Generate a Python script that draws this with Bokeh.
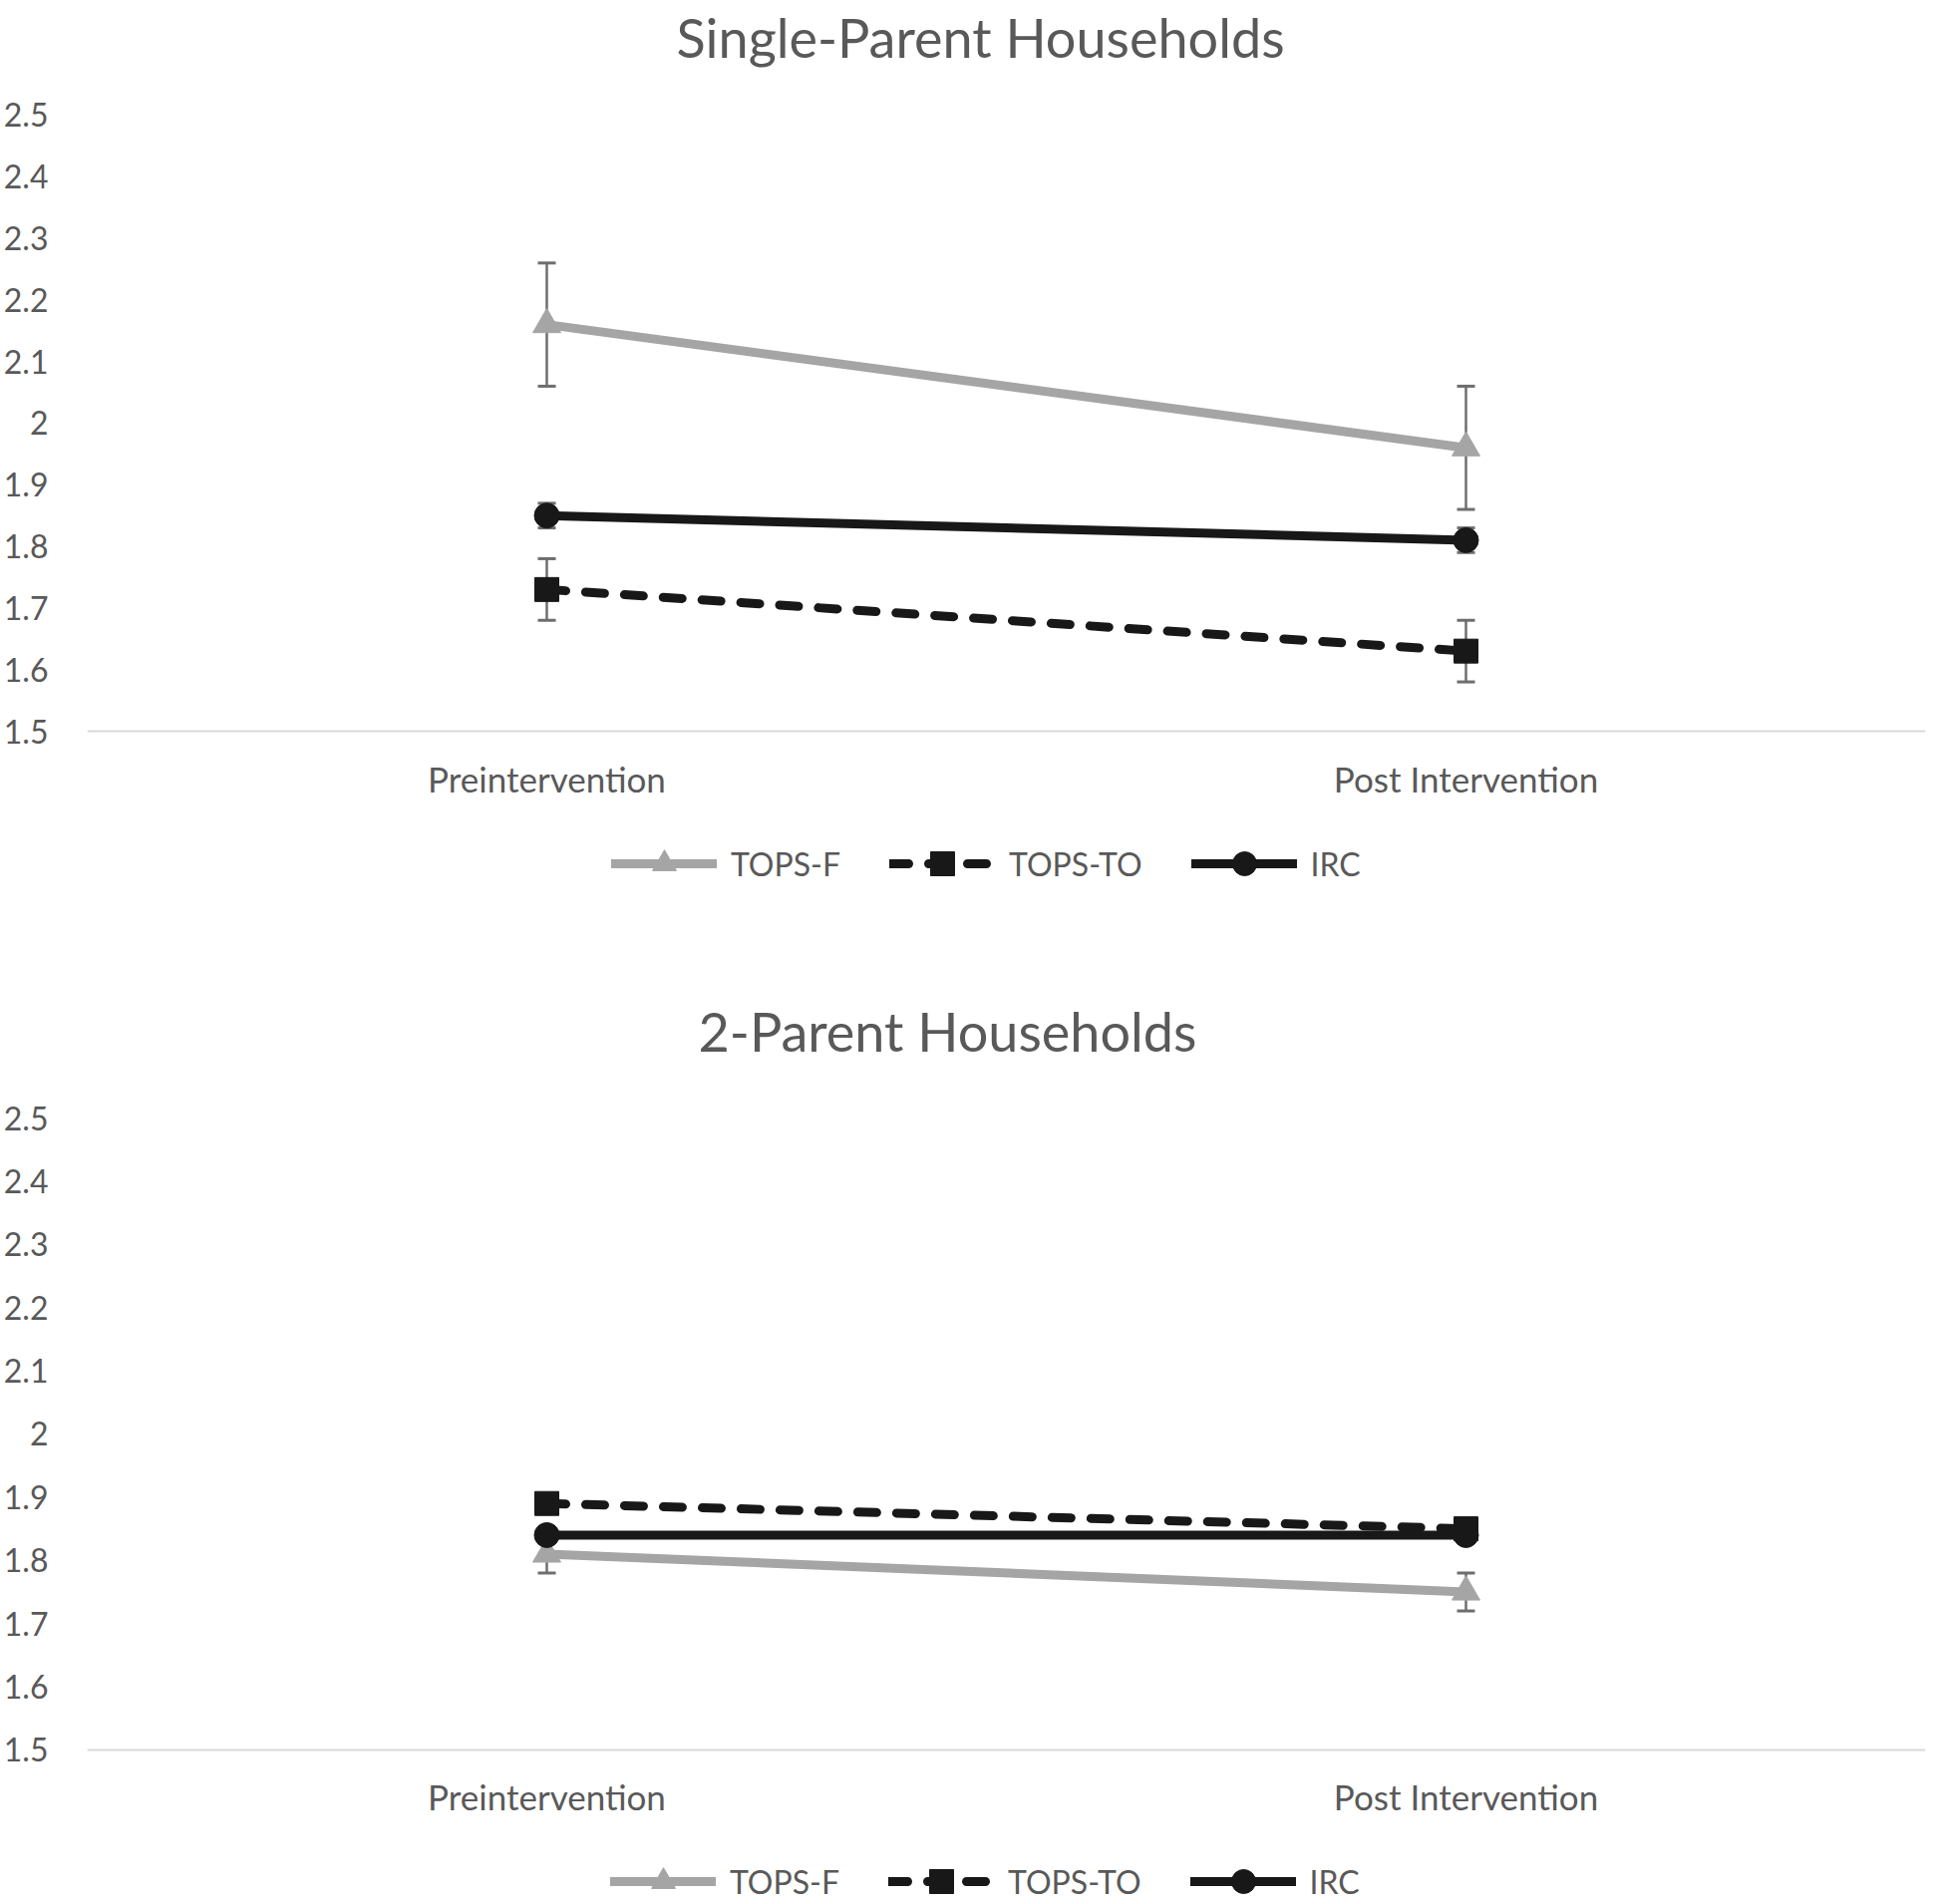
from bokeh.plotting import figure
from bokeh.models import FactorRange, Range1d, FixedTicker, Legend, LegendItem, Label
from bokeh.layouts import column
from bokeh.embed import file_html
from bokeh.resources import INLINE

# ---------------- data ----------------
categories = ["Preintervention", "Post Intervention"]
series_names = ["TOPS-F", "TOPS-TO", "IRC"]
y_ticks = [1.5, 1.6, 1.7, 1.8, 1.9, 2.0, 2.1, 2.2, 2.3, 2.4, 2.5]
y_tick_labels = ["1.5", "1.6", "1.7", "1.8", "1.9", "2", "2.1", "2.2", "2.3", "2.4", "2.5"]
y_axis_min = 1.5

single_title = "Single-Parent Households"
single_tops_f = [2.16, 1.96]
single_tops_f_err = [0.10, 0.10]
single_tops_to = [1.73, 1.63]
single_tops_to_err = [0.05, 0.05]
single_irc = [1.85, 1.81]
single_irc_err = [0.02, 0.02]

two_title = "2-Parent Households"
two_tops_f = [1.81, 1.75]
two_tops_f_err = [0.03, 0.03]
two_tops_to = [1.89, 1.85]
two_tops_to_err = [0.01, 0.01]
two_irc = [1.84, 1.84]
two_irc_err = [0.01, 0.01]

# ---------------- style ----------------
FONT = "Lato"
TEXT = "#595959"
GRAY = "#a5a5a5"
BLACK = "#181818"
ERR = "#6e6e6e"
AXIS = "#d9d9d9"

styles = {
    "TOPS-F": dict(color=GRAY, dash="solid", marker="triangle", size=28),
    "TOPS-TO": dict(color=BLACK, dash="19 20", marker="square", size=24),
    "IRC": dict(color=BLACK, dash="solid", marker="circle", size=25),
}


def make_chart(title, series, height, y_lo, y_hi, title_xy, legend_xy):
    p = figure(x_range=FactorRange(*categories, range_padding=0),
               y_range=Range1d(y_lo, y_hi),
               width=1934, height=height, output_backend="svg",
               toolbar_location=None, tools="",
               min_border_left=79, min_border_right=3,
               min_border_top=0, min_border_bottom=0)
    p.outline_line_color = None
    p.xgrid.visible = False
    p.ygrid.visible = False
    p.background_fill_color = "white"
    p.border_fill_color = "white"

    # chart title
    p.add_layout(Label(x=title_xy[0], y=title_xy[1], x_units="screen", y_units="screen",
                       text=title, text_font=FONT, text_font_size="54px",
                       text_color=TEXT, text_align="left", text_baseline="alphabetic"))

    # axes
    p.yaxis.ticker = FixedTicker(ticks=y_ticks)
    p.yaxis.major_label_overrides = {v: s for v, s in zip(y_ticks, y_tick_labels)}
    p.yaxis.axis_line_color = None
    p.yaxis.major_tick_line_color = None
    p.yaxis.minor_tick_line_color = None
    p.yaxis.major_label_text_font = FONT
    p.yaxis.major_label_text_font_size = "32px"
    p.yaxis.major_label_text_color = TEXT
    p.yaxis.major_label_standoff = 33

    p.xaxis.fixed_location = y_axis_min
    p.xaxis.axis_line_color = AXIS
    p.xaxis.axis_line_width = 2
    p.xaxis.major_tick_line_color = None
    p.xaxis.major_label_text_font = FONT
    p.xaxis.major_label_text_font_size = "35px"
    p.xaxis.major_label_text_color = TEXT
    p.xaxis.major_label_standoff = 20

    # error bars (drawn first, underneath)
    for name, (vals, errs) in series.items():
        lo = [v - e for v, e in zip(vals, errs)]
        hi = [v + e for v, e in zip(vals, errs)]
        p.segment(x0=categories, y0=lo, x1=categories, y1=hi, line_color=ERR, line_width=2.5)
        p.scatter(x=categories, y=lo, marker="dash", size=18, line_color=ERR, line_width=3)
        p.scatter(x=categories, y=hi, marker="dash", size=18, line_color=ERR, line_width=3)

    items = []
    for name, (vals, errs) in series.items():
        st = styles[name]
        lr = p.line(x=categories, y=vals, line_color=st["color"], line_width=9,
                    line_dash=st["dash"], line_cap="round")
        mr = p.scatter(x=categories, y=vals, marker=st["marker"], size=st["size"],
                       fill_color=st["color"], line_color=st["color"])
        items.append(LegendItem(label=name, renderers=[lr, mr]))

    legend = Legend(items=items, orientation="horizontal", location=legend_xy,
                    label_text_font=FONT, label_text_font_size="32px",
                    label_text_color=TEXT, glyph_width=106, glyph_height=60,
                    label_standoff=14, spacing=49, padding=0, margin=0,
                    border_line_color=None, background_fill_alpha=0)
    p.add_layout(legend, "center")
    return p


top = make_chart(single_title,
                 {"TOPS-F": (single_tops_f, single_tops_f_err),
                  "TOPS-TO": (single_tops_to, single_tops_to_err),
                  "IRC": (single_irc, single_irc_err)},
                 height=940, y_lo=1.16505, y_hi=2.68608,
                 title_xy=(591, 903), legend_xy=(526, 44))

bottom = make_chart(two_title,
                    {"TOPS-F": (two_tops_f, two_tops_f_err),
                     "TOPS-TO": (two_tops_to, two_tops_to_err),
                     "IRC": (two_irc, two_irc_err)},
                    height=967, y_lo=1.26025, y_hi=2.78549,
                    title_xy=(613, 873), legend_xy=(525, -10))

layout = column(top, bottom, spacing=0)
open("out.html", "w").write(file_html(layout, INLINE))
